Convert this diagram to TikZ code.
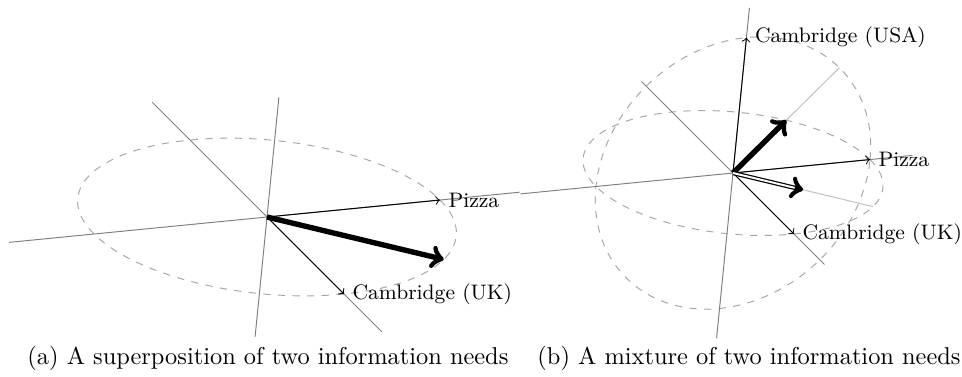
\documentclass[tikz,border=0pt]{standalone}
\usetikzlibrary{calc}
\tikzset{
  axisline/.style={gray, line width=0.4pt},
  projline/.style={black!25, line width=0.4pt},
  vec/.style={black, line width=0.4pt, ->},
  bigvec/.style={black, line width=2.2pt, ->},
  mixline/.style={black, double=white, line width=0.5pt, double distance=0.8pt, shorten >=2.5pt},
  mixtip/.style={black, line width=2.1pt, ->},
  sphere/.style={black!35, dashed, line width=0.4pt},
  lbl/.style={anchor=west, font=\fontsize{8.6pt}{10pt}\selectfont},
  captext/.style={anchor=base west, inner sep=0pt, font=\fontsize{10pt}{12pt}\selectfont}
}
\begin{document}
\begin{tikzpicture}[x=0.41pt,y=-0.41pt]
\useasboundingbox (0,0) rectangle (962,376);
% ---------- (a) superposition ----------
\begin{scope}[shift={(267,217)}, x={(70.93pt,6.97pt)}, y={(31.57pt,-31.57pt)}, z={(6.97pt,70.11pt)}]
  \coordinate (Oa) at (0,0,0);
  \coordinate (axLa) at (-1.49,0,0);
  \coordinate (axRa) at (1.46,0,0);
  \coordinate (ayLa) at (0,-1.49,0);
  \coordinate (ayRa) at (0,1.49,0);
  \coordinate (azLa) at (0,0,-0.7);
  \coordinate (azRa) at (0,0,0.7);
  \coordinate (Pa) at (1,0,0);
  \coordinate (Ua) at (0,1,0);
  \coordinate (Sa) at (0.707,0.707,0);
  \draw[sphere] (Oa) circle[radius=1];
  \draw[axisline] (axLa) -- (axRa);
  \draw[axisline] (ayLa) -- (ayRa);
  \draw[axisline] (azLa) -- (azRa);
  \draw[vec] (Oa) -- (Pa);
  \draw[vec] (Oa) -- (Ua);
  \draw[bigvec] (Oa) -- (Sa);
  \node[lbl] (pizzaA) at (Pa) {Pizza};
  \node[lbl] (ukA) at (Ua) {Cambridge (UK)};
\end{scope}
% ---------- (b) mixture ----------
\begin{scope}[shift={(733,173)}, x={(56.18pt,5.52pt)}, y={(25.0pt,-25.0pt)}, z={(5.52pt,55.53pt)}]
  \coordinate (Ob) at (0,0,0);
  \coordinate (axLb) at (-1.55,0,0);
  \coordinate (axRb) at (1.31,0,0);
  \coordinate (ayLb) at (0,-1.5,0);
  \coordinate (ayRb) at (0,1.5,0);
  \coordinate (azLb) at (0,0,-1.22);
  \coordinate (azRb) at (0,0,1.22);
  \coordinate (Pb) at (1,0,0);
  \coordinate (Ub) at (0,1,0);
  \coordinate (Zb) at (0,0,1);
  \coordinate (PUb) at (0.707,0.707,0);
  \coordinate (PZb) at (0.707,0,0.707);
  \coordinate (mPUb) at (0.354,0.354,0);
  \coordinate (mPZb) at (0.354,0,0.354);
  \draw[sphere] (Ob) circle[radius=1];
  \begin{scope}[y={(5.52pt,55.53pt)}]
    \draw[sphere] (Ob) circle[radius=1];
  \end{scope}
  \draw[axisline] (axLb) -- (axRb);
  \draw[axisline] (ayLb) -- (ayRb);
  \draw[axisline] (azLb) -- (azRb);
  \draw[projline] (Ob) -- (PUb);
  \draw[projline] (Ob) -- (PZb);
  \draw[vec] (Ob) -- (Pb);
  \draw[vec] (Ob) -- (Ub);
  \draw[vec] (Ob) -- (Zb);
  \draw[bigvec] (Ob) -- (mPZb);
  \draw[mixline] (Ob) -- (mPUb);
  \draw[mixtip] ($(Ob)!0.88!(mPUb)$) -- (mPUb);
  \node[lbl] (pizzaB) at (Pb) {Pizza};
  \node[lbl] (ukB) at (Ub) {Cambridge (UK)};
  \node[lbl] (usaB) at (Zb) {Cambridge (USA)};
\end{scope}
% ---------- captions ----------
\node[captext] (capA) at (27,364) {(a) A superposition of two information needs};
\node[captext] (capB) at (537,364) {(b) A mixture of two information needs};
\end{tikzpicture}
\end{document}
